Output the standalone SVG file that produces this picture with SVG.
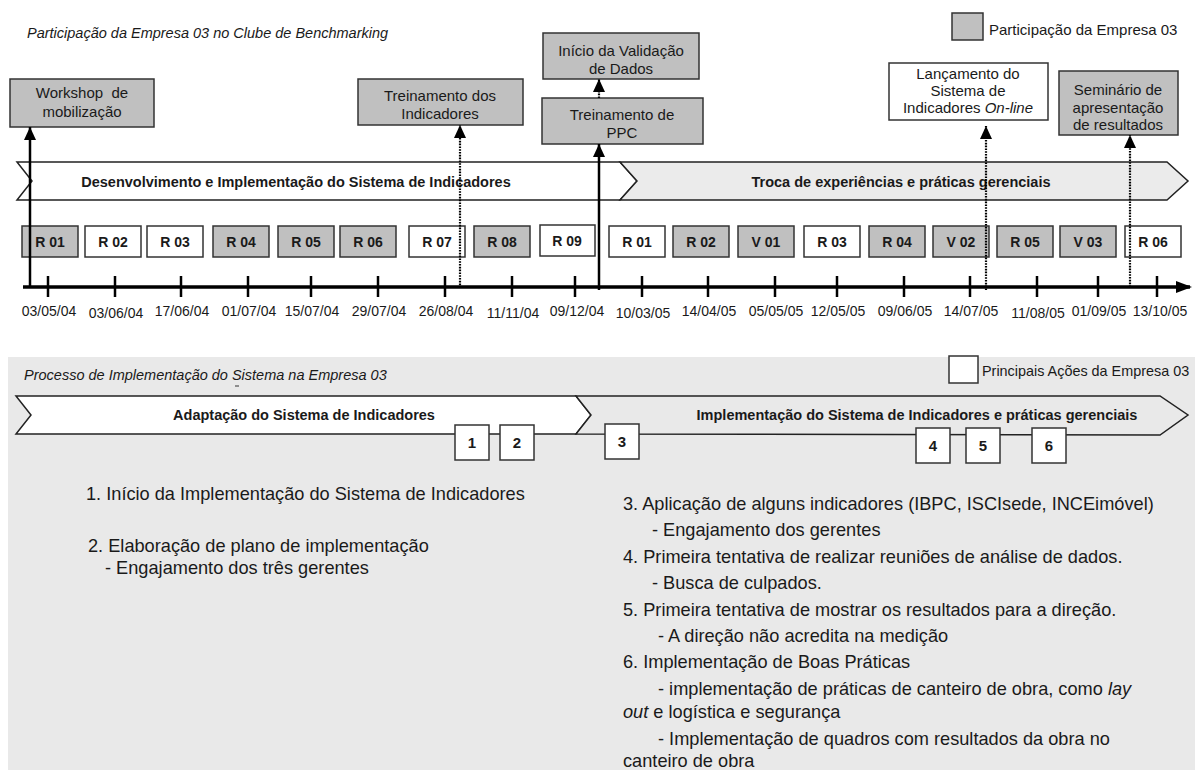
<svg xmlns="http://www.w3.org/2000/svg" width="1195" height="773" viewBox="0 0 1195 773">
  <defs>
    <style>
      text{font-family:"Liberation Sans",Arial,sans-serif;fill:#1a1a1a}
      .box{stroke:#333;stroke-width:1.5}
      .gray{fill:#c0c0c0}
      .white{fill:#fff}
      .lbl{font-size:15px;text-anchor:middle}
      .rl{font-size:14px;font-weight:bold;text-anchor:middle}
      .date{font-size:14px;text-anchor:middle}
      .band{stroke:#222;stroke-width:1.5}
      .bt{font-size:14.5px;font-weight:bold;text-anchor:middle}
      .title{font-size:14.5px;font-style:italic}
      .leg{font-size:15px}
      .leg2{font-size:14.4px}
      .num{font-size:15px;font-weight:bold;text-anchor:middle}
      .body{font-size:18.2px}
      .axis{stroke:#000;stroke-width:3.5;fill:none}
      .tick{stroke:#000;stroke-width:2.5}
      .solid{stroke:#000;stroke-width:2.5;fill:none}
      .dot{stroke:#000;stroke-width:2.2;stroke-dasharray:1.6 1.2;fill:none}
    </style>
    <marker id="head" markerUnits="userSpaceOnUse" markerWidth="13" markerHeight="12" refX="13" refY="6" viewBox="0 0 13 12" orient="auto">
      <path d="M0,0 L13,6 L0,12 Z" fill="#000"/>
    </marker>
    <marker id="axhead" markerUnits="userSpaceOnUse" markerWidth="16" markerHeight="12" refX="14" refY="6" viewBox="0 0 16 12" orient="auto">
      <path d="M0,0 L16,6 L0,12 Z" fill="#000"/>
    </marker>
  </defs>

  <rect x="0" y="0" width="1195" height="773" fill="#fff"/>

  <!-- Upper part: club participation timeline -->
  <text class="title" x="27" y="38">Participação da Empresa 03 no Clube de Benchmarking</text>

  <g id="legend-participacao">
    <rect class="box gray" x="952" y="13" width="31" height="27"/>
    <text class="leg" x="989" y="35">Participação da Empresa 03</text>
  </g>

  <!-- phase bands -->
  <g id="band-desenvolvimento">
    <path class="band white" d="M17,162 L620,162 L637,181 L620,200 L17,200 L32,181 Z"/>
    <text class="bt" x="296" y="187">Desenvolvimento e Implementação do Sistema de Indicadores</text>
  </g>
  <g id="band-troca">
    <path class="band" fill="#ebebeb" d="M620,162 L1167,162 L1188,181 L1167,200 L620,200 L637,181 Z"/>
    <text class="bt" x="901" y="187">Troca de experiências e práticas gerenciais</text>
  </g>

  <!-- event boxes -->
  <g id="ev-workshop">
    <rect class="box gray" x="10" y="79" width="144" height="48"/>
    <text class="lbl" x="82" y="98">Workshop&#160; de</text>
    <text class="lbl" x="82" y="117">mobilização</text>
  </g>
  <g id="ev-treinamento-indicadores">
    <rect class="box gray" x="358" y="79" width="165" height="46"/>
    <text class="lbl" x="440" y="101">Treinamento dos</text>
    <text class="lbl" x="440" y="119">Indicadores</text>
  </g>
  <g id="ev-validacao">
    <rect class="box gray" x="543" y="33" width="156" height="46"/>
    <text class="lbl" x="621" y="56">Início da Validação</text>
    <text class="lbl" x="621" y="74">de Dados</text>
  </g>
  <g id="ev-treinamento-ppc">
    <rect class="box gray" x="542" y="98" width="161" height="46"/>
    <text class="lbl" x="622" y="120">Treinamento de</text>
    <text class="lbl" x="622" y="138">PPC</text>
  </g>
  <g id="ev-lancamento">
    <rect class="box white" x="889" y="63" width="159" height="57"/>
    <text class="lbl" x="968" y="79">Lançamento do</text>
    <text class="lbl" x="968" y="96">Sistema de</text>
    <text class="lbl" x="968" y="113">Indicadores <tspan font-style="italic">On-line</tspan></text>
  </g>
  <g id="ev-seminario">
    <rect class="box gray" x="1059" y="71" width="119" height="64"/>
    <text class="lbl" x="1118" y="95">Seminário de</text>
    <text class="lbl" x="1118" y="113">apresentação</text>
    <text class="lbl" x="1118" y="130">de resultados</text>
  </g>

  <!-- meeting boxes -->
  <g id="meetings">
    <g id="m01"><rect class="box gray" x="22" y="226" width="56" height="31"/><text class="rl" x="50" y="247">R 01</text></g>
    <g id="m02"><rect class="box white" x="85" y="226" width="56" height="31"/><text class="rl" x="113" y="247">R 02</text></g>
    <g id="m03"><rect class="box white" x="147" y="226" width="56" height="31"/><text class="rl" x="175" y="247">R 03</text></g>
    <g id="m04"><rect class="box gray" x="213" y="226" width="56" height="31"/><text class="rl" x="241" y="247">R 04</text></g>
    <g id="m05"><rect class="box gray" x="278" y="226" width="56" height="31"/><text class="rl" x="306" y="247">R 05</text></g>
    <g id="m06"><rect class="box gray" x="340" y="226" width="56" height="31"/><text class="rl" x="368" y="247">R 06</text></g>
    <g id="m07"><rect class="box white" x="409" y="226" width="56" height="31"/><text class="rl" x="437" y="247">R 07</text></g>
    <g id="m08"><rect class="box gray" x="474" y="226" width="56" height="31"/><text class="rl" x="502" y="247">R 08</text></g>
    <g id="m09"><rect class="box white" x="540" y="225" width="55" height="31"/><text class="rl" x="567" y="246">R 09</text></g>
    <g id="m10"><rect class="box white" x="609" y="226" width="56" height="31"/><text class="rl" x="637" y="247">R 01</text></g>
    <g id="m11"><rect class="box gray" x="673" y="226" width="56" height="31"/><text class="rl" x="701" y="247">R 02</text></g>
    <g id="m12"><rect class="box gray" x="738" y="226" width="56" height="31"/><text class="rl" x="766" y="247">V 01</text></g>
    <g id="m13"><rect class="box white" x="804" y="226" width="56" height="31"/><text class="rl" x="832" y="247">R 03</text></g>
    <g id="m14"><rect class="box gray" x="869" y="226" width="56" height="31"/><text class="rl" x="897" y="247">R 04</text></g>
    <g id="m15"><rect class="box gray" x="933" y="226" width="56" height="31"/><text class="rl" x="961" y="247">V 02</text></g>
    <g id="m16"><rect class="box gray" x="997" y="226" width="56" height="31"/><text class="rl" x="1025" y="247">R 05</text></g>
    <g id="m17"><rect class="box gray" x="1060" y="226" width="56" height="31"/><text class="rl" x="1088" y="247">V 03</text></g>
    <g id="m18"><rect class="box white" x="1125" y="226" width="56" height="31"/><text class="rl" x="1153" y="247">R 06</text></g>
  </g>

  <!-- time axis, ticks and event arrows -->
  <g id="connectors">
    <line class="axis" x1="23" y1="287" x2="1190" y2="287" marker-end="url(#axhead)"/>
    <g class="tick">
      <line x1="48" y1="276" x2="48" y2="297"/>
      <line x1="115" y1="276" x2="115" y2="297"/>
      <line x1="181" y1="276" x2="181" y2="297"/>
      <line x1="248" y1="276" x2="248" y2="297"/>
      <line x1="311" y1="276" x2="311" y2="297"/>
      <line x1="378" y1="276" x2="378" y2="297"/>
      <line x1="445" y1="276" x2="445" y2="297"/>
      <line x1="512" y1="276" x2="512" y2="297"/>
      <line x1="575" y1="276" x2="575" y2="297"/>
      <line x1="642" y1="276" x2="642" y2="297"/>
      <line x1="708" y1="276" x2="708" y2="297"/>
      <line x1="775" y1="276" x2="775" y2="297"/>
      <line x1="837" y1="276" x2="837" y2="297"/>
      <line x1="904" y1="276" x2="904" y2="297"/>
      <line x1="970" y1="276" x2="970" y2="297"/>
      <line x1="1037" y1="276" x2="1037" y2="297"/>
      <line x1="1098" y1="276" x2="1098" y2="297"/>
      <line x1="1157" y1="276" x2="1157" y2="297"/>
    </g>
    <line class="solid" x1="30" y1="288" x2="30" y2="127" marker-end="url(#head)"/>
    <line class="dot" x1="460" y1="288" x2="460" y2="125" marker-end="url(#head)"/>
    <line class="solid" x1="599" y1="290" x2="599" y2="144" marker-end="url(#head)"/>
    <line class="dot" x1="599" y1="98" x2="599" y2="79" marker-end="url(#head)"/>
    <line class="dot" x1="986" y1="290" x2="986" y2="126" marker-end="url(#head)"/>
    <line class="dot" x1="1130" y1="287" x2="1130" y2="135" marker-end="url(#head)"/>
  </g>

  <!-- dates -->
  <g id="dates">
    <text class="date" x="49" y="316">03/05/04</text>
    <text class="date" x="116" y="318">03/06/04</text>
    <text class="date" x="182" y="316">17/06/04</text>
    <text class="date" x="249" y="316">01/07/04</text>
    <text class="date" x="312" y="316">15/07/04</text>
    <text class="date" x="379" y="316">29/07/04</text>
    <text class="date" x="446" y="316">26/08/04</text>
    <text class="date" x="513" y="318">11/11/04</text>
    <text class="date" x="577" y="316">09/12/04</text>
    <text class="date" x="643" y="318">10/03/05</text>
    <text class="date" x="709" y="316">14/04/05</text>
    <text class="date" x="776" y="316">05/05/05</text>
    <text class="date" x="838" y="316">12/05/05</text>
    <text class="date" x="905" y="316">09/06/05</text>
    <text class="date" x="971" y="316">14/07/05</text>
    <text class="date" x="1038" y="318">11/08/05</text>
    <text class="date" x="1099" y="316">01/09/05</text>
    <text class="date" x="1160" y="316">13/10/05</text>
  </g>

  <!-- Lower part: implementation process in the company -->
  <rect x="8" y="357" width="1187" height="413" fill="#e9e9e9"/>
  <text class="title" x="24" y="380">Processo de Implementação do Sistema na Empresa 03</text>
  <line x1="235" y1="386" x2="239" y2="386" stroke="#333" stroke-width="1"/>

  <g id="legend-acoes">
    <rect class="box white" x="949" y="356" width="29" height="27"/>
    <text class="leg2" x="982" y="376">Principais Ações da Empresa 03</text>
  </g>

  <g id="band-adaptacao">
    <path class="band white" d="M16,396 L576,396 L591,415 L576,434 L16,434 L31,415 Z"/>
    <text class="bt" x="304" y="420">Adaptação do Sistema de Indicadores</text>
  </g>
  <g id="band-implementacao">
    <path class="band" fill="#e9e9e9" d="M576,396 L1160,396 L1188,415 L1160,435 L576,434 L591,415 Z"/>
    <text class="bt" x="917" y="420">Implementação do Sistema de Indicadores e práticas gerenciais</text>
  </g>

  <g id="a1"><rect class="box white" x="455" y="425" width="34" height="35"/><text class="num" x="472" y="448">1</text></g>
  <g id="a2"><rect class="box white" x="500" y="425" width="34" height="35"/><text class="num" x="517" y="448">2</text></g>
  <g id="a3"><rect class="box white" x="605" y="424" width="34" height="35"/><text class="num" x="622" y="447">3</text></g>
  <g id="a4"><rect class="box white" x="916" y="428" width="34" height="35"/><text class="num" x="933" y="451">4</text></g>
  <g id="a5"><rect class="box white" x="966" y="428" width="34" height="35"/><text class="num" x="983" y="451">5</text></g>
  <g id="a6"><rect class="box white" x="1032" y="428" width="34" height="35"/><text class="num" x="1049" y="451">6</text></g>

  <g id="notes-left">
    <text class="body" x="86" y="500">1. Início da Implementação do Sistema de Indicadores</text>
    <text class="body" x="88" y="552">2. Elaboração de plano de implementação</text>
    <text class="body" x="105" y="574">- Engajamento dos três gerentes</text>
  </g>

  <g id="notes-right">
    <text class="body" x="623" y="510">3. Aplicação de alguns indicadores (IBPC, ISCIsede, INCEimóvel)</text>
    <text class="body" x="652" y="536">- Engajamento dos gerentes</text>
    <text class="body" x="623" y="563">4. Primeira tentativa de realizar reuniões de análise de dados.</text>
    <text class="body" x="652" y="589">- Busca de culpados.</text>
    <text class="body" x="623" y="616">5. Primeira tentativa de mostrar os resultados para a direção.</text>
    <text class="body" x="658" y="642">- A direção não acredita na medição</text>
    <text class="body" x="623" y="668">6. Implementação de Boas Práticas</text>
    <text class="body" x="658" y="695">- implementação de práticas de canteiro de obra, como <tspan font-style="italic">lay</tspan></text>
    <text class="body" x="623" y="718"><tspan font-style="italic">out</tspan> e logística e segurança</text>
    <text class="body" x="658" y="745">- Implementação de quadros com resultados da obra no</text>
    <text class="body" x="623" y="767">canteiro de obra</text>
  </g>
</svg>
